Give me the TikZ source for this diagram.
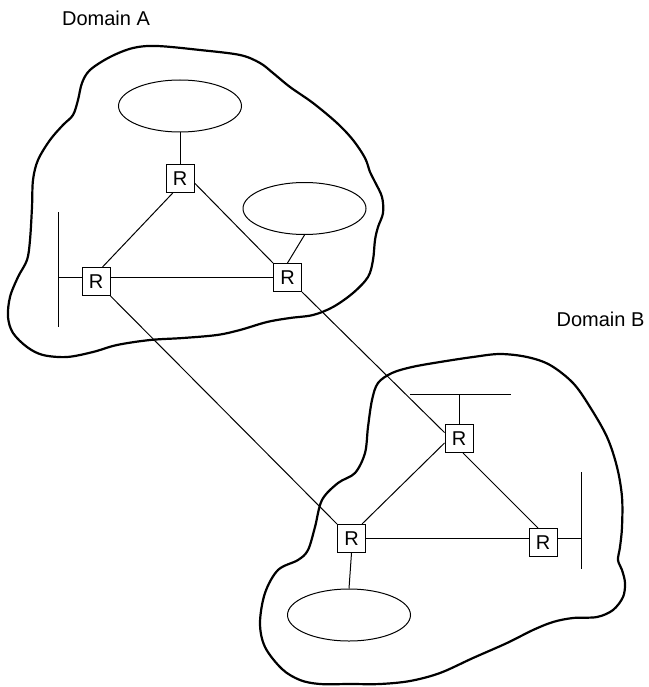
\documentclass[tikz,border=0pt]{standalone}
\usepackage{fontspec}
\setmainfont{Liberation Sans}
\usetikzlibrary{shapes.geometric,calc}
\tikzset{
  router/.style={draw, line width=1pt, minimum size=28pt, inner sep=0pt, fill=white, font=\fontsize{20}{24}\selectfont},
  lan/.style={draw, ellipse, line width=1pt, minimum width=123pt, minimum height=52pt, inner sep=0pt},
  link/.style={line width=1pt},
  blob/.style={line width=2.2pt, line join=round},
  domlabel/.style={font=\fontsize{20}{24}\selectfont, anchor=base, inner sep=0pt}
}
\begin{document}
\begin{tikzpicture}[x=1pt, y=-1pt]
\useasboundingbox (0,0) rectangle (648,687);
% domain outlines
\draw[blob] plot[smooth cycle, tension=0.55] coordinates {
(90,70) (82,83) (78,100) (73,115) (63,125) (50,140) (38,160) (33,180) (32,207) (30,240) (27,260) (18,277) (10,297) (8,317) (13,333) (27,347) (43,355) (67,357) (93,352) (117,345) (150,340) (183,338) (217,335) (240,330) (267,322) (290,318) (313,315) (333,307) (353,293) (368,277) (373,260) (375,240) (378,227) (383,213) (382,197) (375,182) (370,172) (365,158) (353,140) (337,123) (313,103) (290,87) (273,73) (260,63) (240,55) (200,50) (157,46) (133,48) (110,57)};
\draw[blob] plot[smooth cycle, tension=0.55] coordinates {
(372,400) (378,383) (392,373) (412,367) (440,362) (473,357) (500,354) (527,357) (550,365) (573,383) (590,407) (607,437) (617,467) (622,497) (622,527) (620,547) (618,560) (622,570) (625,583) (623,597) (613,610) (597,617) (573,618) (553,622) (533,630) (507,643) (473,658) (440,673) (410,681) (380,684) (350,684) (320,684) (300,680) (282,669) (265,647) (260,623) (265,593) (278,570) (298,560) (308,550) (315,527) (322,500) (338,483) (355,473) (365,453) (368,427)};
% labels
\node[domlabel] (labA) at (106,26) {Domain A};
\node[domlabel] (labB) at (600.5,326) {Domain B};
% domain A
\node[lan] (eA1) at (180,106) {};
\node[lan] (eA2) at (304.5,208.5) {};
\node[router] (tA) at (180,178.5) {R};
\node[router] (lA) at (96,281.5) {R};
\node[router] (rA) at (287.5,277.5) {R};
\coordinate (barAt) at (58,212);
\coordinate (barAb) at (58,327);
\draw[link] (barAt) -- (barAb);
\draw[link] (lA.west |- rA.west) -- (barAt |- rA.west);
\draw[link] (tA.north) -- (eA1.south);
\draw[link] (rA.north) -- (eA2.south);
\draw[link] ($(tA.south)!0.5!(tA.south west)$) -- ($(lA.north)!0.45!(lA.north east)$);
\draw[link] ([yshift=-4.5pt]tA.east) -- (rA.north west);
\draw[link] (lA.east |- rA.west) -- (rA.west);
% domain B
\node[lan] (eB) at (349,615) {};
\node[router] (tB) at (459,438.5) {R};
\node[router] (lB) at (351.5,538.5) {R};
\node[router] (rB) at (543,542.5) {R};
\coordinate (barBl) at (410,394);
\coordinate (barBr) at (511,394);
\coordinate (barRt) at (581,472);
\coordinate (barRb) at (581,569);
\draw[link] (barBl) -- (barBr);
\draw[link] (tB.north) -- (tB.north |- barBl);
\draw[link] (barRt) -- (barRb);
\draw[link] (rB.east |- lB.east) -- (barRt |- lB.east);
\draw[link] (lB.south) -- (eB.north);
\draw[link] ([yshift=-4.5pt]tB.west) -- ([xshift=-4pt]lB.north east);
\draw[link] ([xshift=4pt]tB.south) -- ([xshift=-5pt]rB.north);
\draw[link] (lB.east) -- (rB.west |- lB.east);
% inter-domain links
\draw[link] (lA.south east) -- (lB.north west);
\draw[link] (rA.south east) -- ([yshift=6pt]tB.west);
\end{tikzpicture}
\end{document}
